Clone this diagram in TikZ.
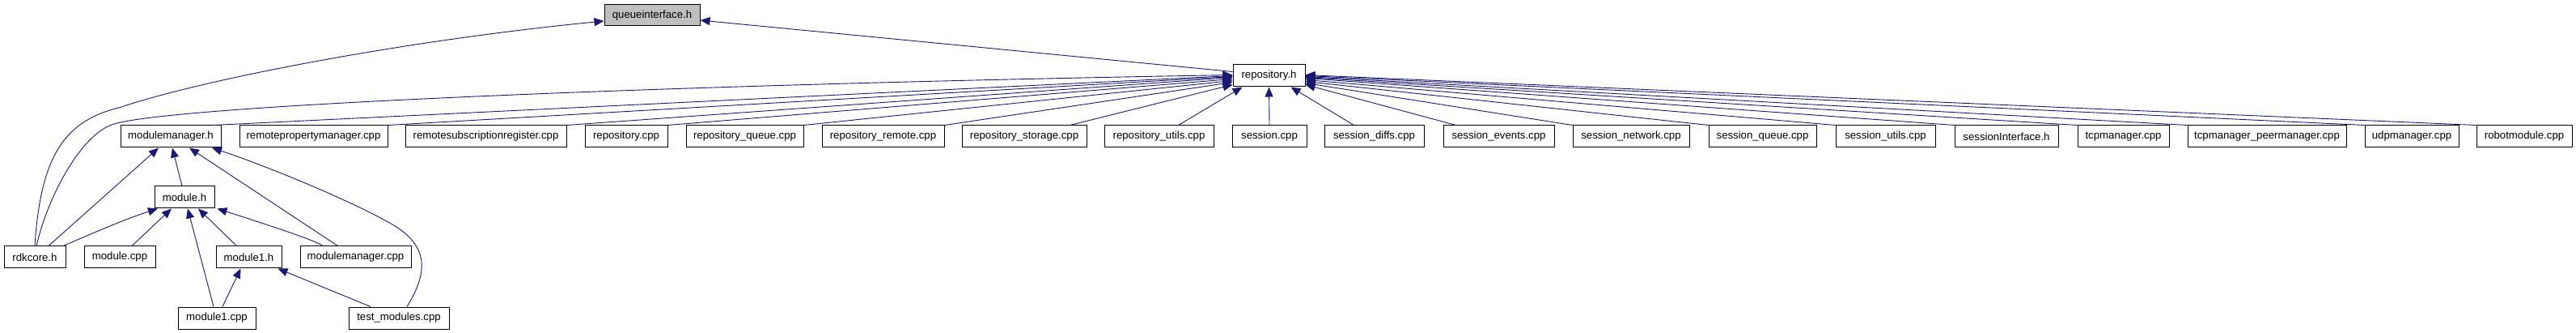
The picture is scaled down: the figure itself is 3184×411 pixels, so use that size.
\documentclass[tikz,border=0pt]{standalone}
\usepackage{fontspec}
\setmainfont{Liberation Sans}
\usetikzlibrary{arrows.meta}
\definecolor{edgeblue}{HTML}{191970}
\definecolor{qgray}{HTML}{BFBFBF}
\tikzset{
  box/.style={draw=black, line width=1pt, fill=white, inner sep=0pt,
    font=\fontsize{13.2}{15}\selectfont, text=black},
  edge/.style={draw=edgeblue, line width=0.9pt,
    -{Triangle[length=12pt,width=10pt]}},
}
\newcommand\nb[7][]{%
  \node[box,#1,minimum width={(#4-#3)*1pt},minimum height={(#6-#5)*1pt}]
    (#2) at ({(#3+#4)/2},{(#5+#6)/2}) {#7};}
\begin{document}
\begin{tikzpicture}[x=1pt,y=-1pt]
\useasboundingbox[fill=white] (0,0) rectangle (3184,411);
% nodes
\nb[fill=qgray]{qi}{747}{865}{6}{32}{queueinterface.h}
\nb{repo}{1524}{1613}{80}{107}{repository.h}
\nb{mmh}{149}{273}{155}{182}{modulemanager.h}
\nb{rpm}{296}{479}{155}{182}{remotepropertymanager.cpp}
\nb{rsr}{501}{700}{155}{182}{remotesubscriptionregister.cpp}
\nb{rcpp}{723}{825}{155}{182}{repository.cpp}
\nb{rq}{848}{993}{155}{182}{repository\_queue.cpp}
\nb{rr}{1016}{1167}{155}{182}{repository\_remote.cpp}
\nb{rs}{1189}{1343}{155}{182}{repository\_storage.cpp}
\nb{ru}{1365}{1500}{155}{182}{repository\_utils.cpp}
\nb{s}{1523}{1615}{155}{182}{session.cpp}
\nb{sd}{1637}{1760}{155}{182}{session\_diffs.cpp}
\nb{se}{1784}{1921}{155}{182}{session\_events.cpp}
\nb{sn}{1944}{2088}{155}{182}{session\_network.cpp}
\nb{sq}{2112}{2245}{155}{182}{session\_queue.cpp}
\nb{su}{2269}{2392}{155}{182}{session\_utils.cpp}
\nb{si}{2416}{2544}{155}{182}{sessionInterface.h}
\nb{tm}{2568}{2681}{155}{182}{tcpmanager.cpp}
\nb{tp}{2704}{2900}{155}{182}{tcpmanager\_peermanager.cpp}
\nb{um}{2923}{3039}{155}{182}{udpmanager.cpp}
\nb{rm}{3061}{3179}{155}{182}{robotmodule.cpp}
\nb{mh}{191}{265}{230}{257}{module.h}
\nb{rdk}{5}{81}{304}{331}{rdkcore.h}
\nb{mcpp}{104}{192}{304}{331}{module.cpp}
\nb{m1h}{267}{348}{304}{331}{module1.h}
\nb{mmcpp}{371}{508}{304}{331}{modulemanager.cpp}
\nb{m1cpp}{220}{316}{379}{406}{module1.cpp}
\nb{tmod}{431}{555}{379}{406}{test\_modules.cpp}
% edges to queueinterface.h
\draw[edge] (rdk.north) .. controls (50,200) and (75,150) .. (147,133)
  .. controls (250,98) and (500,50) .. ([yshift=-7pt]qi.west);
\draw[edge] ([yshift=-9pt]repo.north west) -- ([yshift=-6pt]qi.east);
% edges to repository.h (left side)
\draw[edge] ([xshift=2pt]rdk.north) .. controls (60,240) and (100,168) .. (138,154)
  .. controls (200,131) and (800,105) .. ([yshift=-13pt]repo.north west);
\draw[edge] ([xshift=-10pt]mmh.north east) -- ([yshift=-14pt]repo.north west);
\draw[edge] (rpm.north east) -- ([yshift=-15pt]repo.north west);
\draw[edge] (rsr.north east) -- ([yshift=-16pt]repo.north west);
\draw[edge] (rcpp.north east) -- ([yshift=-18pt]repo.north west);
\draw[edge] (rq.north east) -- ([yshift=-20pt]repo.north west);
\draw[edge] (rr.north east) -- ([yshift=-22pt]repo.north west);
\draw[edge] ([xshift=-21pt]rs.north east) -- ([yshift=-25pt]repo.north west);
\draw[edge] ([xshift=24pt]ru.north) -- ([xshift=12pt]repo.south west);
\draw[edge] (s.north) -- (repo.south);
\draw[edge] ([xshift=-25pt]sd.north) -- ([xshift=-18pt]repo.south east);
% edges to repository.h (right side)
\draw[edge] ([xshift=16pt]se.north west) -- ([yshift=-25pt]repo.north east);
\draw[edge] (sn.north west) -- ([yshift=-23pt]repo.north east);
\draw[edge] (sq.north west) -- ([yshift=-21pt]repo.north east);
\draw[edge] (su.north west) -- ([yshift=-19pt]repo.north east);
\draw[edge] (si.north west) -- ([yshift=-17pt]repo.north east);
\draw[edge] (tm.north west) -- ([yshift=-16pt]repo.north east);
\draw[edge] (tp.north west) -- ([yshift=-15pt]repo.north east);
\draw[edge] (um.north west) -- ([yshift=-14pt]repo.north east);
\draw[edge] (rm.north west) -- ([yshift=-13pt]repo.north east);
% edges to modulemanager.h
\draw[edge] ([xshift=17pt]rdk.north) -- ([xshift=-15pt]mmh.south);
\draw[edge] ([xshift=-3pt]mh.north) -- ([xshift=2pt]mmh.south);
\draw[edge] ([xshift=-22pt]mmcpp.north) -- ([xshift=23pt]mmh.south);
\draw[edge] ([xshift=10pt]tmod.north) .. controls (530,335) and (528,305) .. (490,280)
  .. controls (440,250) and (330,205) .. ([xshift=51pt]mmh.south);
% edges to module.h
\draw[edge] ([xshift=35pt]rdk.north) .. controls (110,290) and (150,272) .. ([xshift=-33pt]mh.south);
\draw[edge] ([xshift=15pt]mcpp.north) -- ([xshift=-16pt]mh.south);
\draw[edge] ([xshift=-4pt]m1cpp.north) -- ([xshift=4pt]mh.south);
\draw[edge] ([xshift=-15pt]m1h.north) -- ([xshift=17pt]mh.south);
\draw[edge] ([xshift=-40pt]mmcpp.north) .. controls (390,298) and (370,290) .. ([xshift=3pt]mh.south east);
% edges to module1.h
\draw[edge] ([xshift=7pt]m1cpp.north) -- ([xshift=-10pt]m1h.south);
\draw[edge] ([xshift=-35pt]tmod.north) -- ([xshift=36pt]m1h.south);
\end{tikzpicture}
\end{document}
